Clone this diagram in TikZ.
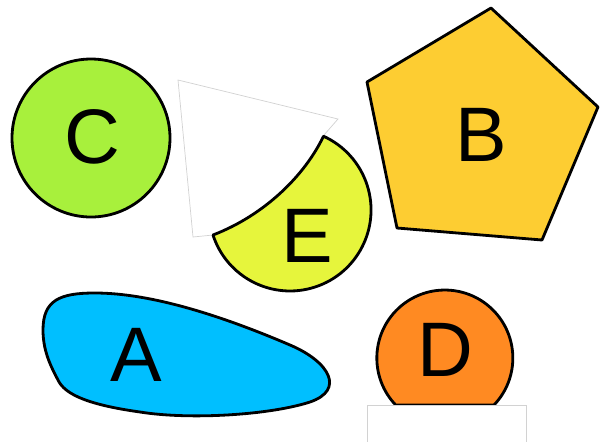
\documentclass[tikz,border=0pt]{standalone}
\usepackage{fontspec}
\setmainfont{Liberation Sans}
\usepackage{tikz}

\definecolor{cgreen}{HTML}{A8F03C}
\definecolor{bgold}{HTML}{FDCD32}
\definecolor{eyellow}{HTML}{E6F53C}
\definecolor{ablue}{HTML}{00BFFF}
\definecolor{dorange}{HTML}{FF8A22}

\begin{document}
\begin{tikzpicture}[x=.02cm,y=-.02cm,
  blob/.style={draw=black,line width=1.6pt,line join=round},
  cover/.style={fill=white,draw=gray!35,line width=.4pt},
  letter/.style={font=\fontsize{44}{44}\selectfont}]
  \useasboundingbox (0,0) rectangle (600,441);
  % C
  \draw[blob,fill=cgreen] (91,138) circle[radius=79];
  \node[letter] (lblC) at (92,137) {C};
  % B
  \draw[blob,fill=bgold] (491,8)--(598,107)--(542,240)--(397,228)--(367,82)--cycle;
  \node[letter] (lblB) at (481,135) {B};
  % E, with the white sheet over it
  \draw[cover] (178,80)--(338,119)--(324,135) .. controls (305,175) and (265,215) .. (213,235)--(193,237)--cycle;
  \draw[blob,fill=eyellow] (213,235) arc[start angle=162,end angle=-65.6,radius=81]
    .. controls (305,175) and (265,215) .. (213,235)--cycle;
  \node[letter] (lblE) at (307,236) {E};
  % A
  \draw[blob,fill=ablue] (43,330) .. controls (43,300) and (60,293) .. (95,293)
    .. controls (150,293) and (220,315) .. (290,345)
    .. controls (330,362) and (345,390) .. (310,402)
    .. controls (270,415) and (190,420) .. (140,412)
    .. controls (90,405) and (65,395) .. (58,380)
    .. controls (50,365) and (43,350) .. (43,330)--cycle;
  \node[letter] (lblA) at (136,355) {A};
  % D, cut by the white box
  \draw[blob,fill=dorange] (494,405) arc[start angle=43.7,end angle=-223.7,radius=68]--cycle;
  \draw[cover] (367,445)--(367,405)--(526,405)--(526,445);
  \node[letter] (lblD) at (445,350) {D};
\end{tikzpicture}
\end{document}
